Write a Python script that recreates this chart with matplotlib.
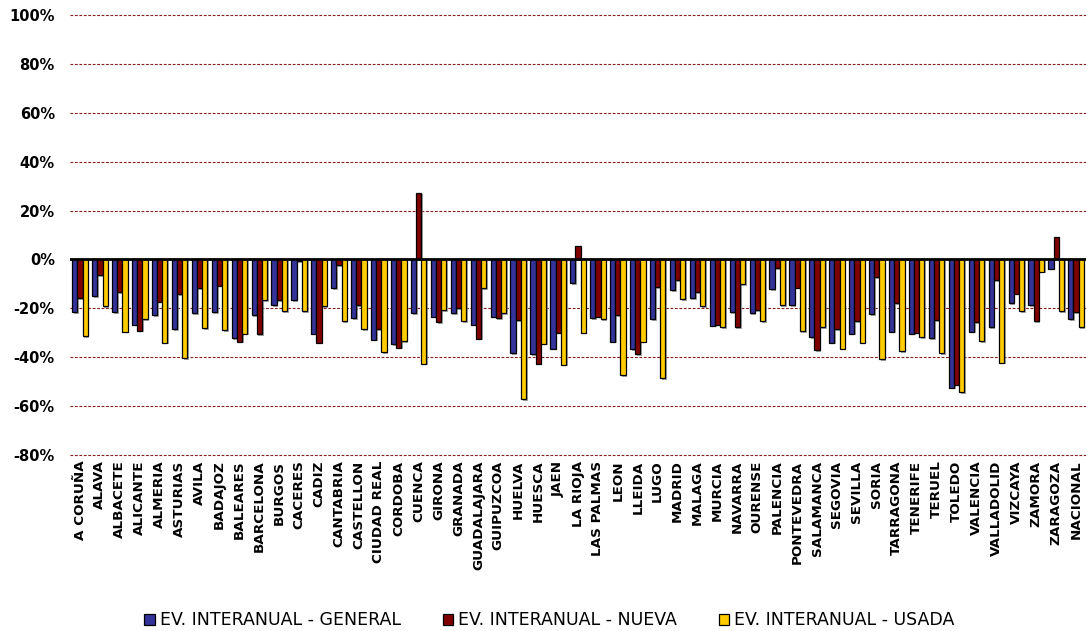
import numpy as np
import matplotlib.pyplot as plt
import matplotlib.patheffects as pe
from matplotlib.ticker import FuncFormatter

# provincias
provincias = ['A CORUÑA', 'ALAVA', 'ALBACETE', 'ALICANTE', 'ALMERIA', 'ASTURIAS', 'AVILA',
              'BADAJOZ', 'BALEARES', 'BARCELONA', 'BURGOS', 'CACERES', 'CADIZ', 'CANTABRIA',
              'CASTELLON', 'CIUDAD REAL', 'CORDOBA', 'CUENCA', 'GIRONA', 'GRANADA',
              'GUADALAJARA', 'GUIPUZCOA', 'HUELVA', 'HUESCA', 'JAEN', 'LA RIOJA', 'LAS PALMAS',
              'LEON', 'LLEIDA', 'LUGO', 'MADRID', 'MALAGA', 'MURCIA', 'NAVARRA', 'OURENSE',
              'PALENCIA', 'PONTEVEDRA', 'SALAMANCA', 'SEGOVIA', 'SEVILLA', 'SORIA', 'TARRAGONA',
              'TENERIFE', 'TERUEL', 'TOLEDO', 'VALENCIA', 'VALLADOLID', 'VIZCAYA', 'ZAMORA',
              'ZARAGOZA', 'NACIONAL']

# evolucion interanual (%)
general = [-21.5, -15.0, -21.5, -26.7, -22.9, -28.6, -21.9, -21.5, -32.2, -22.9, -18.6, -16.7,
           -30.3, -11.7, -23.9, -32.8, -34.6, -21.9, -23.4, -21.9, -26.7, -23.4, -38.4, -38.8,
           -36.5, -9.8, -23.9, -33.7, -36.6, -24.4, -12.5, -15.8, -27.1, -21.5, -21.9, -12.1,
           -18.6, -31.8, -34.1, -30.3, -22.4, -29.5, -30.3, -32.2, -52.5, -29.5, -27.6, -17.8,
           -18.6, -3.7, -24.4]
nueva = [-15.8, -6.5, -13.5, -29.1, -17.3, -14.1, -11.7, -10.7, -33.7, -30.5, -16.7, -0.8,
         -34.1, -2.3, -18.8, -28.6, -36.1, 27.3, -25.7, -20.0, -32.4, -23.9, -24.8, -42.6,
         -29.9, 5.7, -23.4, -22.9, -38.8, -11.2, -8.4, -13.5, -26.7, -27.6, -20.7, -3.5,
         -11.6, -37.0, -28.6, -25.3, -7.3, -18.0, -29.9, -24.8, -51.2, -25.7, -8.4, -14.0,
         -25.3, 9.0, -21.5]
usada = [-31.4, -19.0, -29.5, -24.4, -34.1, -40.3, -28.0, -29.0, -30.3, -16.7, -21.1, -21.1,
         -19.0, -25.3, -28.6, -38.0, -33.3, -42.6, -20.7, -25.3, -11.7, -21.9, -57.1, -34.4,
         -43.0, -29.9, -24.4, -47.3, -33.7, -48.7, -16.3, -19.0, -27.6, -10.2, -25.3, -18.6,
         -29.4, -27.6, -36.5, -34.1, -40.7, -37.4, -31.8, -38.4, -54.4, -33.3, -42.2, -21.1,
         -5.0, -21.1, -27.6]

series = ['EV. INTERANUAL - GENERAL', 'EV. INTERANUAL - NUEVA', 'EV. INTERANUAL - USADA']
colores = ['#333399', '#800000', '#FFCC00']

fig = plt.figure(figsize=(10.86, 6.31), dpi=100)
ax = fig.add_axes([0.0645, 0.279, 0.9355, 0.697])

x = np.arange(len(provincias))
w = 0.26
sombra = [pe.SimplePatchShadow(offset=(1.2, -1.2), shadow_rgbFace='#808080', alpha=0.7), pe.Normal()]
for k, (vals, col, nom) in enumerate(zip([general, nueva, usada], colores, series)):
    ax.bar(x + (k - 1) * w, vals, w, color=col, edgecolor='black', linewidth=0.9,
           label=nom, zorder=3, path_effects=sombra)

ax.set_xlim(-0.5, len(provincias) - 0.5)
ax.set_ylim(-80, 100)
ax.set_yticks(np.arange(-80, 101, 20))
ax.yaxis.set_major_formatter(FuncFormatter(lambda v, p: f'{v:.0f}%'))
# rejilla discontinua roja (tambien en los extremos)
for yv in np.arange(-80, 101, 20):
    if yv != 0:
        ax.axhline(yv, color='#8B1A1A', lw=0.8, ls=(0, (2.5, 1.5)), zorder=1, clip_on=False)
ax.axhline(0, color='black', lw=2, zorder=4)

ax.set_xticks(x)
ax.set_xticklabels(provincias, rotation=90, fontsize=9.7, fontweight='bold')
ax.tick_params(axis='both', length=0)
ax.tick_params(axis='x', pad=4)
ax.tick_params(axis='y', labelsize=10.5, pad=11)
for t in ax.get_yticklabels():
    t.set_fontweight('bold')
for s in ax.spines.values():
    s.set_visible(False)

leg = fig.legend(loc='lower center', bbox_to_anchor=(0.506, -0.022), ncol=3, frameon=False,
                 fontsize=12.5, handlelength=0.6, handleheight=0.6, handletextpad=0.3,
                 columnspacing=2.4)
for h in leg.legend_handles:
    h.set_path_effects([])

fig.savefig('out.png', dpi=100)
